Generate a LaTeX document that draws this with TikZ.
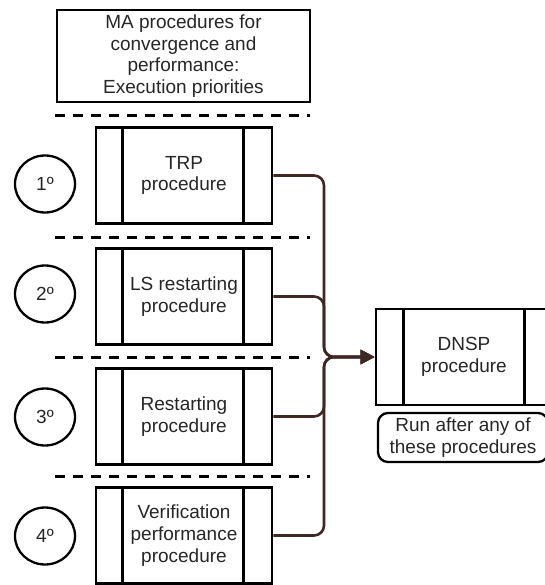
\documentclass[tikz,border=0pt]{standalone}
\usepackage{fontspec}
\setmainfont{Liberation Sans}
\usetikzlibrary{arrows.meta,shapes.geometric}
\definecolor{conncol}{HTML}{3F2824}
\begin{document}
\begin{tikzpicture}[x=1pt,y=-1pt,
  every node/.style={font=\fontsize{19}{21.7}\selectfont, align=center, text=black!85},
  procbox/.style={draw, line width=2.8pt, minimum width=176pt, minimum height=96pt, inner sep=0pt, fill=white},
  bar/.style={line width=2.8pt},
  prio/.style={draw, ellipse, line width=2.3pt, minimum width=60pt, minimum height=57pt, inner sep=0pt},
  sepline/.style={line width=3pt, dash pattern=on 10pt off 8pt},
  link/.style={draw=conncol, line width=2.6pt, rounded corners=10pt},
  tip/.style={-{Triangle[length=14pt,width=14pt]}},
  note/.style={draw, line width=2.3pt, rounded corners=10pt, minimum width=170pt, minimum height=49pt, inner sep=0pt, font=\fontsize{19}{22}\selectfont}
]
\useasboundingbox (0,0) rectangle (544,585);

% title
\node[draw, line width=2.8pt, minimum width=253pt, minimum height=92pt, inner sep=0pt] (title) at (183.5,56)
  {MA procedures for\\convergence and\\performance:\\Execution priorities};

% separators
\draw[sepline] (55,116) -- (310,116);
\draw[sepline] (55,237) -- (310,237);
\draw[sepline] (55,357) -- (310,357);
\draw[sepline] (55,476) -- (310,476);

% procedure boxes
\node[procbox] (b1) at (184,175.5) {TRP\\procedure};
\node[procbox] (b2) at (184,296.5) {LS restarting\\procedure};
\node[procbox] (b3) at (184,416.5) {Restarting\\procedure};
\node[procbox] (b4) at (184,535.5) {Verification\\performance\\procedure};
\foreach \b in {b1,b2,b3,b4}{
  \draw[bar] ([xshift=28pt]\b.north west) -- ([xshift=28pt]\b.south west);
  \draw[bar] ([xshift=-30pt]\b.north east) -- ([xshift=-30pt]\b.south east);
}

% priorities
\node[prio] (p1) at (45,184) {1º};
\node[prio] (p2) at (45,294) {2º};
\node[prio] (p3) at (45,417) {3º};
\node[prio] (p4) at (45,536) {4º};

% DNSP
\node[procbox] (dnsp) at (464,357) {DNSP\\procedure};
\draw[bar] ([xshift=29pt]dnsp.north west) -- ([xshift=29pt]dnsp.south west);
\draw[bar] ([xshift=-29pt]dnsp.north east) -- ([xshift=-29pt]dnsp.south east);
\node[note] (nt) at (463,437.5) {Run after any of\\these procedures};

% connectors
\coordinate (m) at (324,357);
\foreach \b in {b1,b2,b3,b4}{
  \draw[link,tip] (\b.east) -| (m) -- (dnsp.west);
}
\end{tikzpicture}
\end{document}
